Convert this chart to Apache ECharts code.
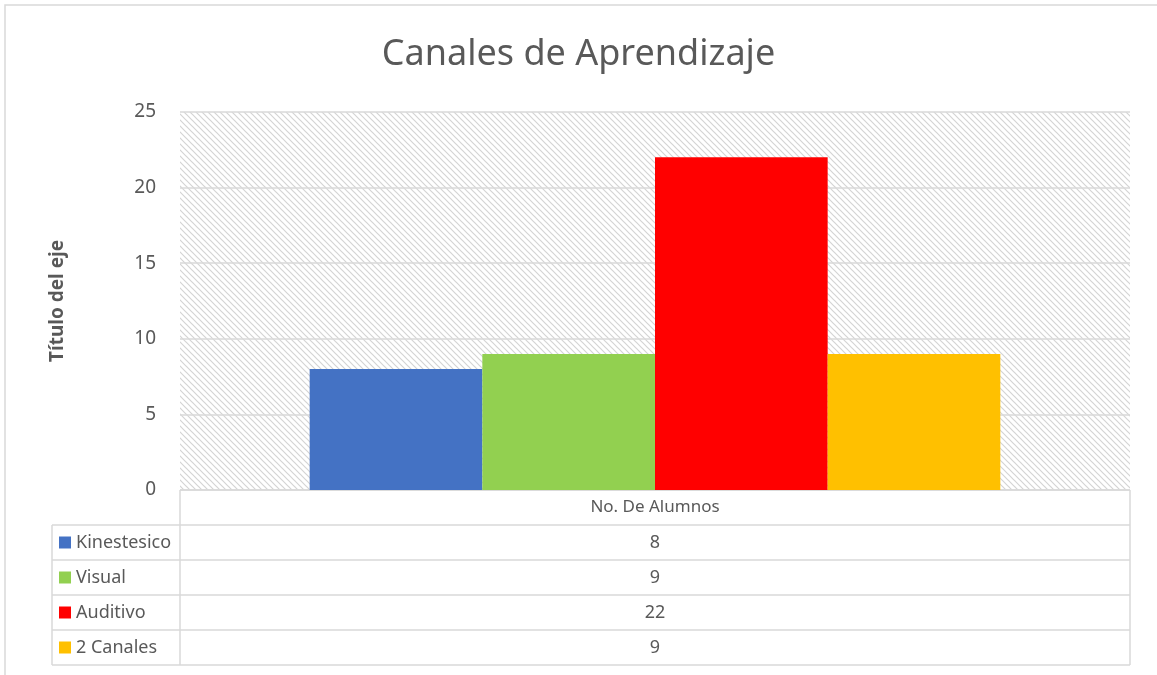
<!DOCTYPE html>
<html>
<head>
<meta charset="utf-8">
<script src="https://cdn.jsdelivr.net/npm/echarts@6/dist/echarts.min.js"></script>
<style>
  html, body { margin: 0; padding: 0; background: #fff; }
  #main { width: 1157px; height: 675px; }
</style>
</head>
<body>
<div id="main"></div>
<script>
// datos del grafico
const serieNames = ['Kinestesico', 'Visual', 'Auditivo', '2 Canales'];
const serieValues = [8, 9, 22, 9];
const serieColors = ['#4472c4', '#92d050', '#ff0000', '#ffc000'];
const category = ['No. De Alumnos'];
const yTicks = [0, 5, 10, 15, 20, 25];

const FONT = '"Noto Sans", "Open Sans", sans-serif';
const GRAY = '#d9d9d9';

// trama diagonal del fondo
function makeHatch() {
  const c = document.createElement('canvas');
  c.width = 6; c.height = 6;
  const ctx = c.getContext('2d');
  ctx.fillStyle = '#fff';
  ctx.fillRect(0, 0, 6, 6);
  ctx.strokeStyle = '#d4d4d4';
  ctx.lineWidth = 1.2;
  ctx.beginPath();
  ctx.moveTo(-1, -1); ctx.lineTo(7, 7);
  ctx.moveTo(-7, -1); ctx.lineTo(1, 7);
  ctx.moveTo(5, -1); ctx.lineTo(13, 7);
  ctx.stroke();
  return c;
}

const grid = { left: 180, right: 27, top: 112, bottom: 185 };
const tblLeft = 52, tblRight = 1130, tblTop = 490, rowH = 35, colX = 180;

// tabla de datos debajo del grafico
function buildTable() {
  const els = [];
  const lineStyle = { stroke: GRAY, lineWidth: 1.5 };
  const nRows = serieNames.length;
  const bottom = tblTop + rowH * (nRows + 1);
  // linea superior del encabezado
  els.push({ type: 'line', shape: { x1: colX, y1: tblTop, x2: tblRight, y2: tblTop }, style: lineStyle });
  for (let i = 1; i <= nRows + 1; i++) {
    const y = tblTop + rowH * i;
    els.push({ type: 'line', shape: { x1: tblLeft, y1: y, x2: tblRight, y2: y }, style: lineStyle });
  }
  els.push({ type: 'line', shape: { x1: tblLeft, y1: tblTop + rowH, x2: tblLeft, y2: bottom }, style: lineStyle });
  els.push({ type: 'line', shape: { x1: colX, y1: tblTop, x2: colX, y2: bottom }, style: lineStyle });
  els.push({ type: 'line', shape: { x1: tblRight, y1: tblTop, x2: tblRight, y2: bottom }, style: lineStyle });
  const midX = (colX + tblRight) / 2;
  els.push({
    type: 'text', x: midX, y: tblTop + rowH / 2,
    style: { text: category[0], fill: '#595959', font: '17px ' + FONT, textAlign: 'center', textVerticalAlign: 'middle' }
  });
  serieNames.forEach(function (name, i) {
    const cy = tblTop + rowH * (i + 1) + rowH / 2;
    els.push({ type: 'rect', shape: { x: 59, y: cy - 6, width: 12, height: 12 }, style: { fill: serieColors[i] } });
    els.push({
      type: 'text', x: 76, y: cy,
      style: { text: name, fill: '#595959', font: '18px ' + FONT, textVerticalAlign: 'middle' }
    });
    els.push({
      type: 'text', x: midX, y: cy,
      style: { text: String(serieValues[i]), fill: '#595959', font: '18px ' + FONT, textAlign: 'center', textVerticalAlign: 'middle' }
    });
  });
  return els;
}

const chart = echarts.init(document.getElementById('main'));

const option = {
  animation: false,
  backgroundColor: '#fff',
  title: {
    text: 'Canales de Aprendizaje',
    left: 'center',
    top: 32,
    textStyle: { color: '#595959', fontSize: 36, fontWeight: 'normal', fontFamily: FONT }
  },
  grid: Object.assign({ show: true, borderWidth: 0, backgroundColor: { image: makeHatch(), repeat: 'repeat' } }, grid),
  xAxis: {
    type: 'category',
    data: category,
    axisLine: { show: false },
    axisTick: { show: false },
    axisLabel: { show: false }
  },
  yAxis: {
    type: 'value',
    min: yTicks[0],
    max: yTicks[yTicks.length - 1],
    interval: 5,
    name: 'Título del eje',
    nameLocation: 'middle',
    nameGap: 113,
    nameTextStyle: { color: '#595959', fontSize: 19, fontWeight: 'bold', fontFamily: FONT },
    axisLine: { show: false },
    axisTick: { show: false },
    axisLabel: { color: '#595959', fontSize: 19, fontFamily: FONT, margin: 24 },
    splitLine: { lineStyle: { color: GRAY, width: 1.5 } }
  },
  series: serieNames.map(function (name, i) {
    return {
      name: name,
      type: 'bar',
      data: [serieValues[i]],
      itemStyle: { color: serieColors[i] },
      barGap: '0%',
      barCategoryGap: '27.3%'
    };
  }),
  graphic: [
    {
      type: 'rect',
      shape: { x: 5, y: 5, width: 1170, height: 690 },
      style: { fill: 'none', stroke: GRAY, lineWidth: 1.5 },
      silent: true,
      z: -1
    }
  ].concat(buildTable())
};

chart.setOption(option);
</script>
</body>
</html>
